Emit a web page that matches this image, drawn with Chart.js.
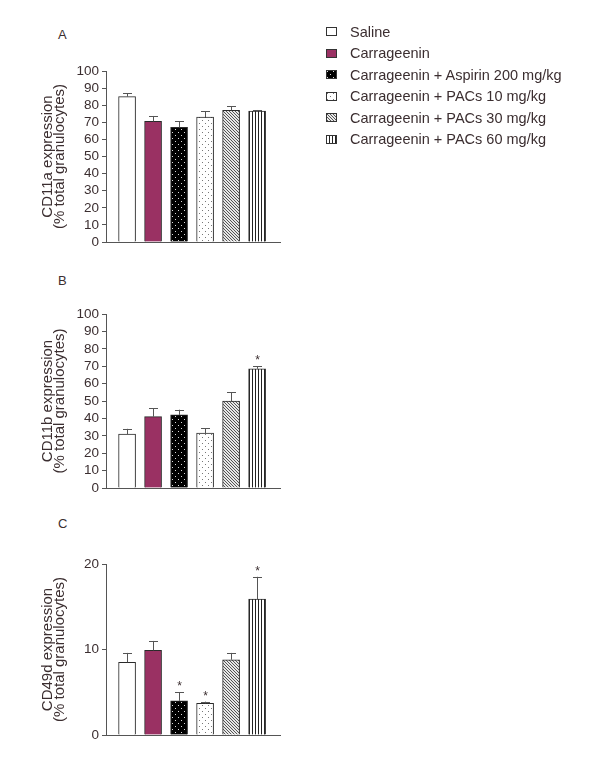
<!DOCTYPE html>
<html>
<head>
<meta charset="utf-8">
<title>Granulocyte adhesion molecules</title>
<script src="https://cdn.jsdelivr.net/npm/chart.js@4.4.0/dist/chart.umd.min.js"></script>
<style>
    body { margin: 0; background: #fff; font-family: 'Liberation Sans', Arial, sans-serif; }
    #page { position: relative; width: 600px; height: 776px; overflow: hidden; }
    .panel { position: absolute; left: 0; width: 300px; height: 240px; }
    .panel-label { position: absolute; left: 58px; font-size: 13px; line-height: 16px; color: #3b2e30; }
    #legend { position: absolute; left: 326px; top: 21px; margin: 0; padding: 0; list-style: none; }
    #legend li { display: flex; align-items: center; height: 21.5px; font-size: 14.5px; color: #3b2e30; white-space: nowrap; }
    #legend canvas { width: 11px; height: 9px; margin-right: 13px; }
</style>
</head>
<body>
<div id="page">
    <div class="panel-label" style="top:27px">A</div>
    <div class="panel-label" style="top:273px">B</div>
    <div class="panel-label" style="top:516px">C</div>

    <ul id="legend"></ul>

    <div class="panel" style="top:20px"><canvas id="chartA"></canvas></div>
    <div class="panel" style="top:265px"><canvas id="chartB"></canvas></div>
    <div class="panel" style="top:515px"><canvas id="chartC"></canvas></div>
</div>

<script>
// Treatment groups (same order in every panel)
const categories = [
    'Saline',
    'Carrageenin',
    'Carrageenin + Aspirin 200 mg/kg',
    'Carrageenin + PACs 10 mg/kg',
    'Carrageenin + PACs 30 mg/kg',
    'Carrageenin + PACs 60 mg/kg'
];

// A - CD11a
const cd11aValues = [85, 70.5, 67, 73, 77, 76.5];
const cd11aErrors = [2, 3.2, 3.5, 3.5, 2.5, 0.7];
const cd11aSignificant = [false, false, false, false, false, false];

// B - CD11b
const cd11bValues = [31, 41, 42, 31.5, 50, 68.5];
const cd11bErrors = [3, 4.8, 3, 2.7, 5, 1.5];
const cd11bSignificant = [false, false, false, false, false, true];

// C - CD49d
const cd49dValues = [8.5, 9.9, 4.0, 3.7, 8.8, 15.9];
const cd49dErrors = [1.1, 1.1, 1.0, 0.2, 0.8, 2.6];
const cd49dSignificant = [false, false, true, true, false, true];

// y tick labels
const percentTicks = [0, 10, 20, 30, 40, 50, 60, 70, 80, 90, 100];
const cd49dTicks = [0, 10, 20];

const textColor = '#3b2e30';
const axisColor = '#555';
const barBorder = '#2a2a2a';

Chart.defaults.font.family = "'Liberation Sans', Arial, sans-serif";
Chart.defaults.color = textColor;

// small repeating tiles used as bar fills
function makePattern(kind) {
    const tile = document.createElement('canvas');
    const c = tile.getContext('2d');
    if (kind === 'white') {
        return '#ffffff';
    }
    if (kind === 'maroon') {
        return '#9a3163';
    }
    if (kind === 'darkDots') {
        tile.width = 6; tile.height = 6;
        c.fillStyle = '#000'; c.fillRect(0, 0, 6, 6);
        c.fillStyle = '#ddd'; c.fillRect(1, 1, 1, 1); c.fillRect(4, 4, 1, 1);
    } else if (kind === 'lightDots') {
        tile.width = 6; tile.height = 6;
        c.fillStyle = '#fff'; c.fillRect(0, 0, 6, 6);
        c.fillStyle = '#777'; c.fillRect(1, 1, 1, 1); c.fillRect(4, 4, 1, 1);
    } else if (kind === 'diagonal') {
        tile.width = 3; tile.height = 3;
        c.fillStyle = '#e8e8e8'; c.fillRect(0, 0, 3, 3);
        c.fillStyle = '#555';
        for (let i = 0; i < 3; i++) c.fillRect(i, i, 1, 1);
    } else if (kind === 'vertical') {
        tile.width = 3; tile.height = 1;
        c.fillStyle = '#fff'; c.fillRect(0, 0, 3, 1);
        c.fillStyle = '#222'; c.fillRect(0, 0, 1, 1);
    }
    return c.createPattern(tile, 'repeat');
}

const fillKinds = ['white', 'maroon', 'darkDots', 'lightDots', 'diagonal', 'vertical'];
const barFills = fillKinds.map(makePattern);

// Legend
const legendList = document.getElementById('legend');
categories.forEach(function(name, i) {
    const li = document.createElement('li');
    const sw = document.createElement('canvas');
    sw.width = 11; sw.height = 9;
    const sctx = sw.getContext('2d');
    sctx.fillStyle = barFills[i];
    sctx.fillRect(0, 0, 11, 9);
    sctx.strokeStyle = '#333';
    sctx.lineWidth = 1;
    sctx.strokeRect(0.5, 0.5, 10, 8);
    li.appendChild(sw);
    li.appendChild(document.createTextNode(name));
    legendList.appendChild(li);
});

// Upper error bars + significance stars
const errorBarPlugin = {
    id: 'errorBars',
    afterDatasetsDraw(chart) {
        const ctx = chart.ctx;
        const yScale = chart.scales.y;
        chart.data.datasets.forEach(function(ds, di) {
            const meta = chart.getDatasetMeta(di);
            meta.data.forEach(function(bar, i) {
                const top = yScale.getPixelForValue(ds.values[i] + ds.errors[i]);
                ctx.save();
                ctx.strokeStyle = axisColor;
                ctx.lineWidth = 1;
                ctx.beginPath();
                ctx.moveTo(Math.round(bar.x) + 0.5, bar.y);
                ctx.lineTo(Math.round(bar.x) + 0.5, top);
                ctx.moveTo(Math.round(bar.x) - 4, Math.round(top) + 0.5);
                ctx.lineTo(Math.round(bar.x) + 5, Math.round(top) + 0.5);
                ctx.stroke();
                if (ds.significant[i]) {
                    ctx.fillStyle = textColor;
                    ctx.font = "12px 'Liberation Sans', Arial, sans-serif";
                    ctx.textAlign = 'center';
                    ctx.textBaseline = 'alphabetic';
                    ctx.fillText('*', bar.x + 0.5, top - 2);
                }
                ctx.restore();
            });
        });
    }
};

function makePanel(canvasId, values, errors, significant, ticks, titleLines, padTop, padBottom) {
    const ctx = document.getElementById(canvasId).getContext('2d');
    return new Chart(ctx, {
        type: 'bar',
        data: {
            datasets: [{
                label: titleLines[0],
                data: values.map(function(v, i) { return { x: i, y: v }; }),
                values: values,
                errors: errors,
                significant: significant,
                backgroundColor: barFills,
                borderColor: barBorder,
                borderWidth: 1,
                barThickness: 17
            }]
        },
        options: {
            responsive: true,
            maintainAspectRatio: false,
            animation: false,
            layout: {
                padding: { left: 38, right: 20, top: padTop, bottom: padBottom }
            },
            plugins: {
                legend: { display: false },
                tooltip: {
                    callbacks: {
                        title: function(items) { return categories[items[0].dataIndex]; },
                        label: function(item) {
                            return item.raw.y + ' ± ' + errors[item.dataIndex];
                        }
                    }
                }
            },
            scales: {
                x: {
                    type: 'linear',
                    offset: false,
                    min: -0.81,
                    max: 5.88,
                    ticks: { display: false },
                    grid: { display: false, offset: false },
                    border: { display: true, color: axisColor, width: 1 }
                },
                y: {
                    min: 0,
                    max: ticks[ticks.length - 1],
                    afterBuildTicks: function(scale) {
                        scale.ticks = ticks.map(function(v) { return { value: v }; });
                    },
                    afterFit: function(scale) { scale.width = 68; },
                    border: { display: true, color: axisColor, width: 1 },
                    grid: {
                        display: true,
                        drawOnChartArea: false,
                        drawTicks: true,
                        tickLength: 4,
                        color: axisColor
                    },
                    ticks: {
                        autoSkip: false,
                        padding: 3,
                        color: textColor,
                        font: { size: 13.5 }
                    },
                    title: {
                        display: true,
                        text: titleLines,
                        color: textColor,
                        font: { size: 15, lineHeight: 0.78 },
                        padding: { top: 4, bottom: 0 }
                    }
                }
            }
        },
        plugins: [errorBarPlugin]
    });
}

makePanel('chartA', cd11aValues, cd11aErrors, cd11aSignificant, percentTicks,
    ['CD11a expression', '(% total granulocytes)'], 51, 10);
makePanel('chartB', cd11bValues, cd11bErrors, cd11bSignificant, percentTicks,
    ['CD11b expression', '(% total granulocytes)'], 49, 9);
makePanel('chartC', cd49dValues, cd49dErrors, cd49dSignificant, cd49dTicks,
    ['CD49d expression', '(% total granulocytes)'], 49, 12);
</script>
</body>
</html>
